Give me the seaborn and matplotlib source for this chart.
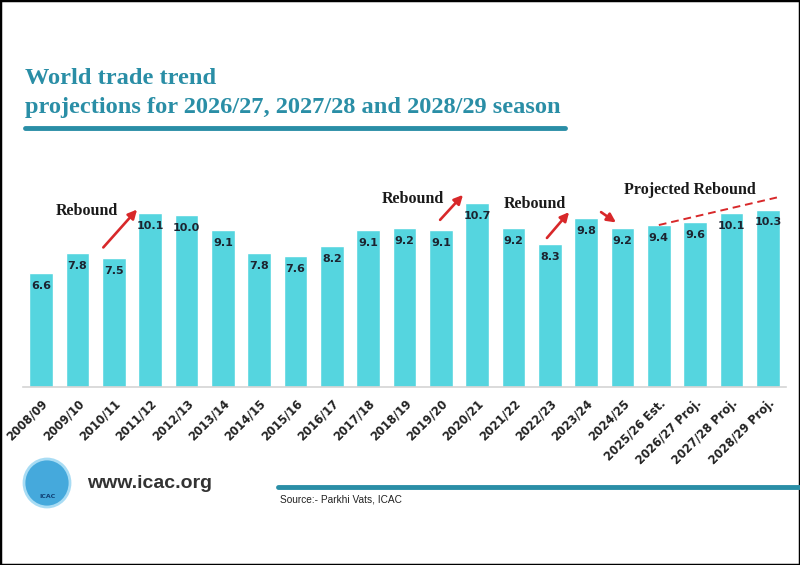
import numpy as np
import pandas as pd
import seaborn as sns
import matplotlib.pyplot as plt
from matplotlib.patches import Ellipse, Rectangle
from matplotlib.lines import Line2D

seasons = ["2008/09", "2009/10", "2010/11", "2011/12", "2012/13", "2013/14",
           "2014/15", "2015/16", "2016/17", "2017/18", "2018/19", "2019/20",
           "2020/21", "2021/22", "2022/23", "2023/24", "2024/25",
           "2025/26 Est.", "2026/27 Proj.", "2027/28 Proj.", "2028/29 Proj."]
trade = [6.6, 7.8, 7.5, 10.1, 10.0, 9.1, 7.8, 7.6, 8.2, 9.1, 9.2, 9.1,
         10.7, 9.2, 8.3, 9.8, 9.2, 9.4, 9.6, 10.1, 10.3]

# annotation arrows (start x, start y, end x, end y) in data units
arrows = [(1.71, 8.1, 2.64, 10.3), (10.98, 9.7, 11.61, 11.15),
          (13.92, 8.65, 14.53, 10.15), (15.41, 10.15, 15.82, 9.55)]
rebound_labels = [(1.27, 10.2, "Rebound"), (10.23, 10.9, "Rebound"),
                  (13.59, 10.6, "Rebound"), (17.85, 11.45, "Projected Rebound")]
proj_line = ([17, 20.25], [9.4, 11.0])

teal = "#2a8ea6"
bar_col = "#55d5df"

sns.set_theme(style="white")
df = pd.DataFrame({"season": seasons, "value": trade})

fig = plt.figure(figsize=(8, 5.65), dpi=100)
ax = fig.add_axes([23 / 800, 178 / 565, 763 / 800, 224 / 565])
sns.barplot(data=df, x="season", y="value", color=bar_col, saturation=1,
            width=0.66, ax=ax)
ax.set_xlim(-0.5, len(seasons) - 0.5)
ax.set_ylim(0, 13)
ax.set_xlabel("")
ax.set_ylabel("")
ax.set_yticks([])
for s in ["top", "right", "left"]:
    ax.spines[s].set_visible(False)
ax.spines["bottom"].set_color("#d4d4d4")
ax.spines["bottom"].set_linewidth(1.2)
ax.tick_params(axis="x", length=0, pad=7)
plt.setp(ax.get_xticklabels(), rotation=45, ha="right", rotation_mode="anchor",
         fontsize=8.3, fontweight="bold", color="#222222")

for i, v in enumerate(trade):
    ax.text(i, v - 0.75, f"{v:.1f}", ha="center", va="center",
            fontsize=8, fontweight="bold", color="#1c2430")

for x0, y0, x1, y1 in arrows:
    ax.annotate("", xy=(x1, y1), xytext=(x0, y0),
                arrowprops=dict(arrowstyle="-|>", color="#d8282a", lw=1.9,
                                mutation_scale=13, shrinkA=0, shrinkB=0),
                annotation_clip=False)
for x, y, t in rebound_labels:
    ax.text(x, y, t, ha="center", va="center", fontsize=11.5,
            fontweight="bold", family="Liberation Serif", color="#1a1a1a",
            clip_on=False)
ax.plot(proj_line[0], proj_line[1], ls=(0, (4, 2.5)), color="#d8282a",
        lw=1.4, clip_on=False)

# title block
fig.text(25 / 800, 1 - 78 / 565, "World trade trend", ha="left", va="center",
         fontsize=17.6, fontweight="bold", family="Liberation Serif", color=teal)
fig.text(25 / 800, 1 - 108 / 565,
         "projections for 2026/27, 2027/28 and 2028/29 season",
         ha="left", va="center", fontsize=17.6, fontweight="bold",
         family="Liberation Serif", color=teal)
fig.add_artist(Line2D([25 / 800, 565 / 800], [1 - 128 / 565] * 2,
                      transform=fig.transFigure, color=teal, lw=3.5))

# footer
fig.add_artist(Ellipse((47 / 800, 1 - 483 / 565), 46 / 800, 48 / 565,
                       transform=fig.transFigure, facecolor="#45a9dc",
                       edgecolor="#a8dcf4", lw=2))
fig.text(47 / 800, 1 - 496 / 565, "ICAC", ha="center", va="center",
         fontsize=4.5, fontweight="bold", color="#0f3e73")
fig.text(87 / 800, 1 - 484 / 565, "www.icac.org", ha="left", va="center",
         fontsize=14, fontweight="bold", family="Liberation Sans",
         color="#333333")
fig.add_artist(Line2D([278 / 800, 1.0], [1 - 487 / 565] * 2,
                      transform=fig.transFigure, color=teal, lw=3.5))
fig.text(280 / 800, 1 - 500 / 565, "Source:- Parkhi Vats, ICAC", ha="left",
         va="center", fontsize=7.3, color="#222222", family="Liberation Sans")

fig.add_artist(Rectangle((0, 0), 1, 1, transform=fig.transFigure, fill=False,
                         edgecolor="black", lw=2.5))

fig.savefig("out.png", dpi=100)
